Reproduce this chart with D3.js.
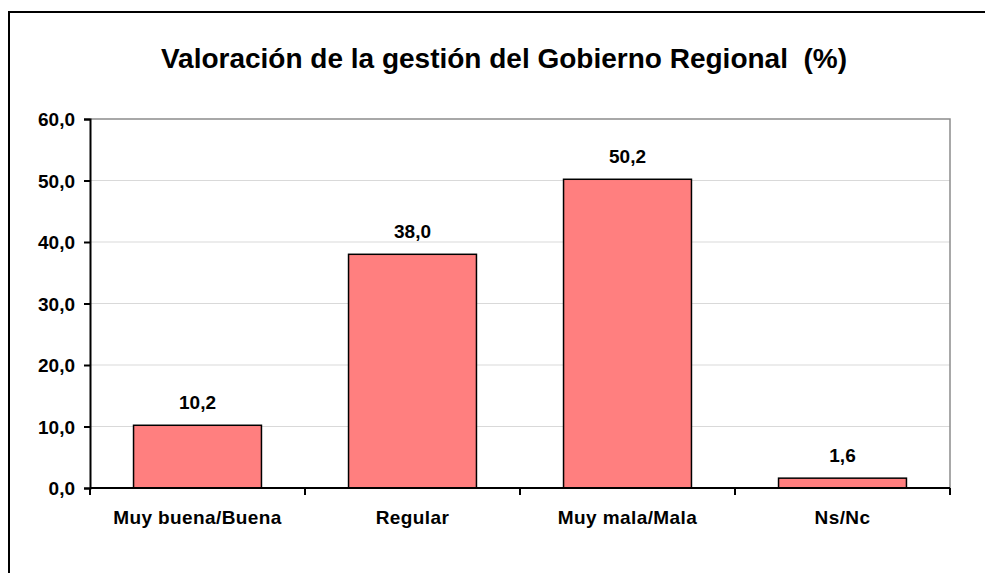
<!DOCTYPE html>
<html>
<head>
<meta charset="utf-8">
<script src="https://cdn.jsdelivr.net/npm/d3@7"></script>
<style>
  html, body { margin: 0; padding: 0; background: #fff; }
  svg { display: block; }
  text { font-family: "Liberation Sans", Arial, sans-serif; font-weight: bold; fill: #000; }
</style>
</head>
<body>
<svg id="chart" width="985" height="573"></svg>
<script>
// Survey categories and their percentages
const categories = ["Muy buena/Buena", "Regular", "Muy mala/Mala", "Ns/Nc"];
const values = [10.2, 38.0, 50.2, 1.6];
const yTicks = [0, 10, 20, 30, 40, 50, 60];
const title = "Valoración de la gestión del Gobierno Regional  (%)";

const fmt = v => v.toFixed(1).replace(".", ",");

const svg = d3.select("#chart");
const W = 985, H = 573;
const plot = { left: 90, right: 950, top: 119, bottom: 488 };

// Outer frame (runs off the right and bottom edges)
svg.append("rect")
  .attr("x", 9).attr("y", 12)
  .attr("width", W + 20).attr("height", H + 20)
  .attr("fill", "#fff").attr("stroke", "#000").attr("stroke-width", 2);

svg.append("text")
  .attr("x", 504).attr("y", 68)
  .attr("text-anchor", "middle")
  .attr("font-size", 28)
  .style("white-space", "pre")
  .text(title);

const x = d3.scaleBand()
  .domain(categories)
  .range([plot.left, plot.right])
  .paddingInner(0.405)
  .paddingOuter(0.2025);

const y = d3.scaleLinear()
  .domain([0, 60])
  .range([plot.bottom, plot.top]);

// Horizontal gridlines
svg.append("g")
  .selectAll("line")
  .data(yTicks.filter(t => t > 0 && t < 60))
  .join("line")
  .attr("x1", plot.left).attr("x2", plot.right)
  .attr("y1", d => y(d)).attr("y2", d => y(d))
  .attr("stroke", "#d9d9d9").attr("stroke-width", 1);

// Plot area frame (top and right)
svg.append("path")
  .attr("d", `M${plot.left},${y(60)}H${plot.right}V${plot.bottom}`)
  .attr("fill", "none").attr("stroke", "#8c8c8c").attr("stroke-width", 1.5);

// Bars
svg.append("g")
  .selectAll("rect")
  .data(values)
  .join("rect")
  .attr("x", (d, i) => x(categories[i]))
  .attr("y", d => y(d))
  .attr("width", x.bandwidth())
  .attr("height", d => y(0) - y(d))
  .attr("fill", "#ff7f7f")
  .attr("stroke", "#000").attr("stroke-width", 1.5);

// Value labels
svg.append("g")
  .selectAll("text")
  .data(values)
  .join("text")
  .attr("x", (d, i) => x(categories[i]) + x.bandwidth() / 2)
  .attr("y", d => y(d) - 16)
  .attr("text-anchor", "middle")
  .attr("font-size", 19)
  .text(d => fmt(d));

// Y axis
const yAxis = svg.append("g")
  .attr("transform", `translate(${plot.left},0)`)
  .call(d3.axisLeft(y).tickValues(yTicks).tickSize(6).tickPadding(9).tickFormat(fmt));
yAxis.select(".domain").attr("stroke", "#000").attr("stroke-width", 2);
yAxis.selectAll(".tick line").attr("stroke", "#000").attr("stroke-width", 2);
yAxis.selectAll(".tick text")
  .attr("font-size", 19).attr("font-family", null).attr("dy", "0.36em");

// X axis with ticks on category boundaries
const bounds = d3.range(categories.length + 1).map(i => plot.left + i * (plot.right - plot.left) / categories.length);
const xg = svg.append("g");
xg.append("line")
  .attr("x1", plot.left).attr("x2", plot.right)
  .attr("y1", plot.bottom).attr("y2", plot.bottom)
  .attr("stroke", "#000").attr("stroke-width", 2);
xg.selectAll("line.tk")
  .data(bounds)
  .join("line")
  .attr("class", "tk")
  .attr("x1", d => d).attr("x2", d => d)
  .attr("y1", plot.bottom).attr("y2", plot.bottom + 7)
  .attr("stroke", "#000").attr("stroke-width", 2);
xg.selectAll("text")
  .data(categories)
  .join("text")
  .attr("x", d => x(d) + x.bandwidth() / 2)
  .attr("y", plot.bottom + 36)
  .attr("text-anchor", "middle")
  .attr("font-size", 19)
  .attr("letter-spacing", 0.4)
  .text(d => d);
</script>
</body>
</html>
